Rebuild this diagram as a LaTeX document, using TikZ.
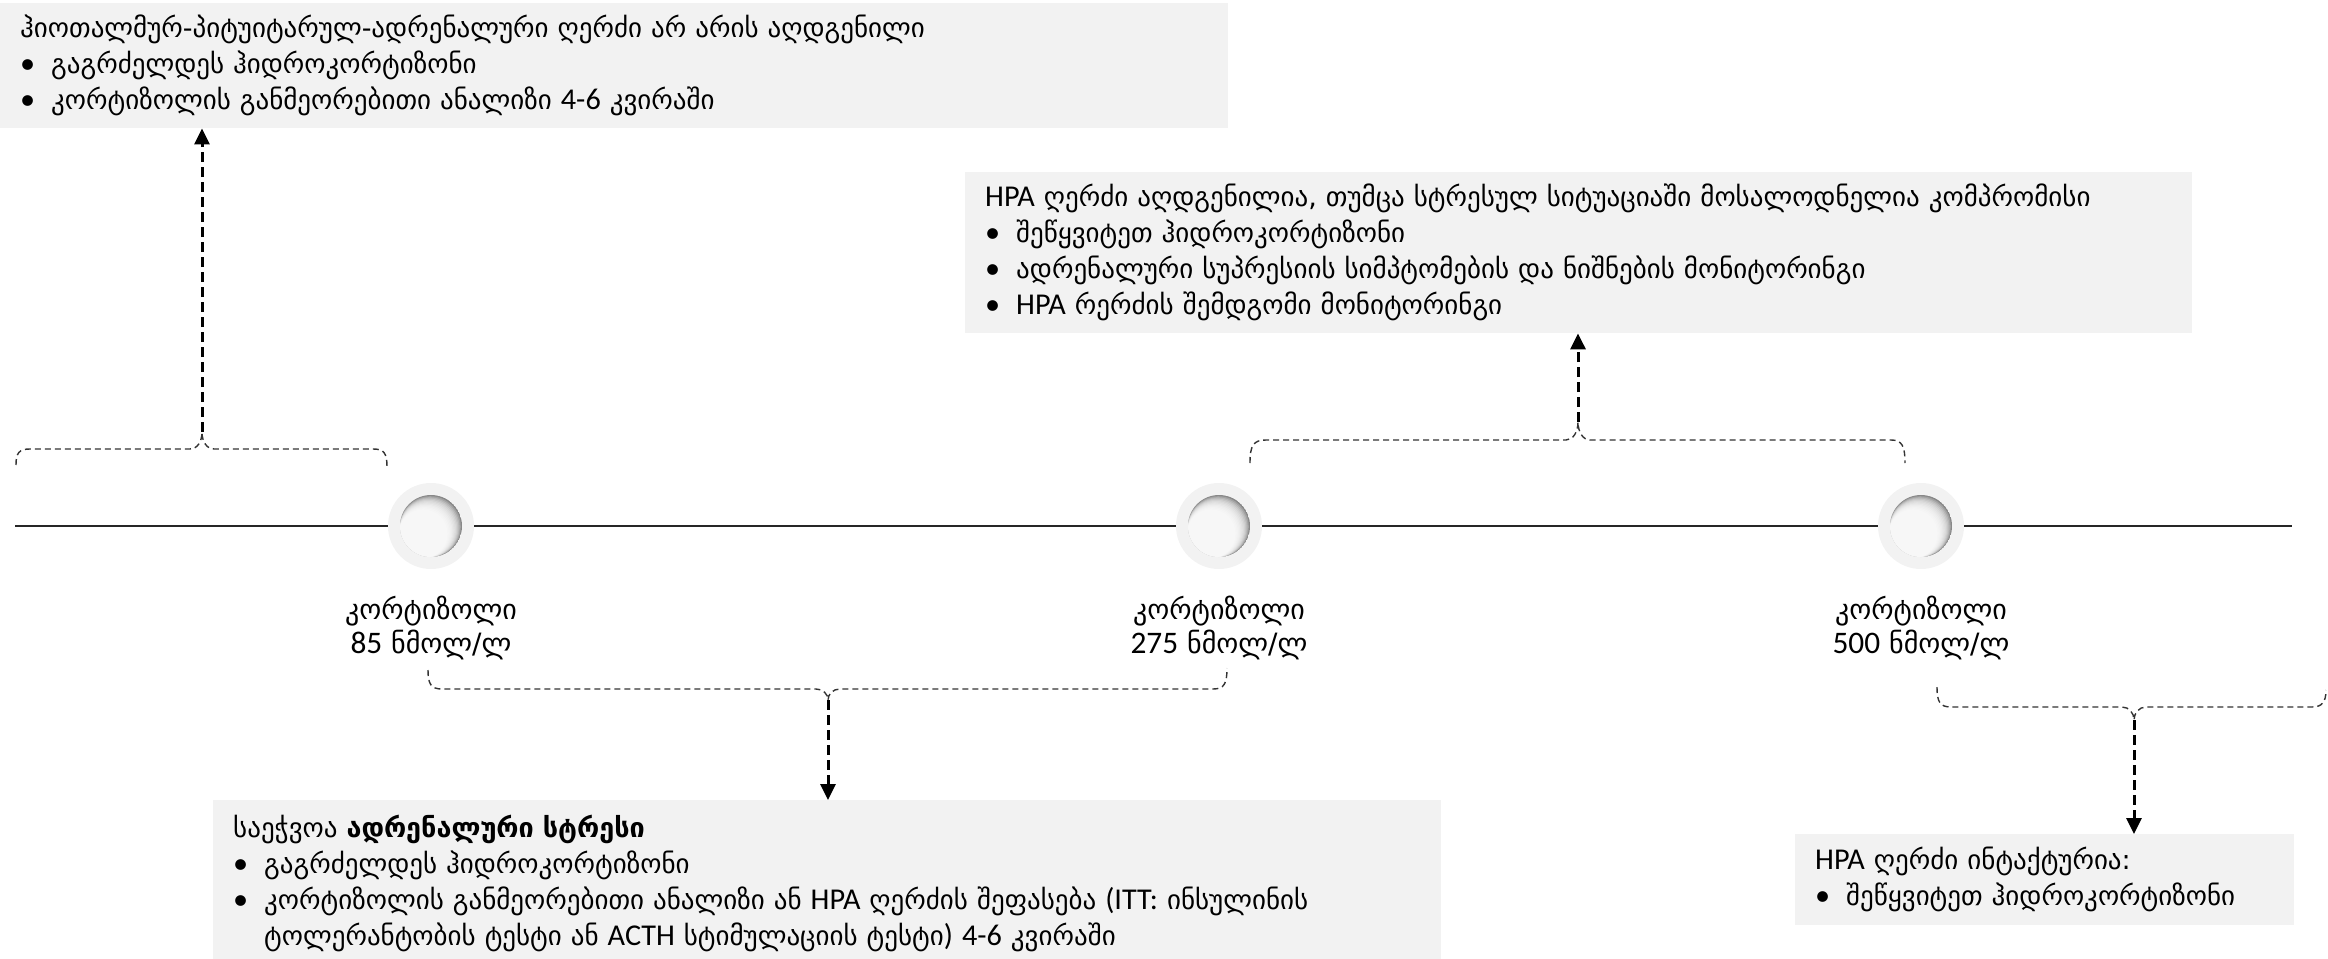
\documentclass[tikz,border=0pt]{standalone}
\usepackage{fontspec}
\setmainfont{DejaVu Sans}
\newfontfamily\latfont{Carlito}[Scale=1.12]
\usetikzlibrary{positioning,arrows.meta,calc}

\newcommand{\lat}[1]{{\latfont #1}}
\newcommand{\bul}{\makebox[31pt][l]{\latfont •}}
\newcommand{\ind}{\hspace*{31pt}}

\definecolor{boxgray}{HTML}{F2F2F2}
\definecolor{ringgray}{HTML}{F2F2F2}
\definecolor{dimplegray}{HTML}{888888}

\tikzset{
  infobox/.style={fill=boxgray, anchor=north west, inner xsep=20pt, inner ysep=0pt,
    align=left, font=\fontsize{27}{36}\selectfont},
  dot/.style={circle, fill=ringgray, minimum size=86pt, inner sep=0pt},
  levellabel/.style={align=center, inner sep=0pt, font=\fontsize{28}{34}\selectfont},
  timeline/.style={line width=2pt, black!85},
  brace/.style={line width=1.4pt, black!80, dash pattern=on 6pt off 4pt},
  flowarrow/.style={line width=3pt, dash pattern=on 10pt off 5pt, -{Triangle[length=16pt,width=15pt]}}
}

\begin{document}
\begin{tikzpicture}[x=1pt, y=-1pt]
\useasboundingbox (0,0) rectangle (2328,958);

% timeline with the three cortisol levels
\node[dot] (lvl1) at (431,526) {};
\node[dot] (lvl2) at (1219,526) {};
\node[dot] (lvl3) at (1921,526) {};
\coordinate (tlstart) at (15,526);
\coordinate (tlend) at (2292,526);
\draw[timeline] (tlstart) -- (lvl1) -- (lvl2) -- (lvl3) -- (tlend);

% hollow look inside each circle
\foreach \d in {lvl1,lvl2,lvl3} {
  \begin{scope}
    \clip (\d.center) circle (31pt);
    \fill[dimplegray] (\d.center) circle (31pt);
    \foreach \k in {1,...,12}
      \fill[white, opacity=0.22] ($(\d.center)+(-0.65*\k pt,-0.65*\k pt)$) circle ({31-0.55*\k});
  \end{scope}
}

\node[levellabel, below=27pt of lvl1] (lab1) {კორტიზოლი\\\lat{85} ნმოლ/ლ};
\node[levellabel, below=27pt of lvl2] (lab2) {კორტიზოლი\\\lat{275} ნმოლ/ლ};
\node[levellabel, below=27pt of lvl3] (lab3) {კორტიზოლი\\\lat{500} ნმოლ/ლ};

% outcome boxes
\node[infobox, text width=1188pt, minimum height=125pt] (axisbox) at (0,3)
  {ჰიოთალმურ-პიტუიტარულ-ადრენალური ღერძი არ არის აღდგენილი\\
   \bul გაგრძელდეს ჰიდროკორტიზონი\\
   \bul კორტიზოლის განმეორებითი ანალიზი \lat{4-6} კვირაში};
\node[infobox, text width=1187pt, minimum height=161pt] (recoverbox) at (965,172)
  {\lat{HPA} ღერძი აღდგენილია, თუმცა სტრესულ სიტუაციაში მოსალოდნელია კომპრომისი\\
   \bul შეწყვიტეთ ჰიდროკორტიზონი\\
   \bul ადრენალური სუპრესიის სიმპტომების და ნიშნების მონიტორინგი\\
   \bul \lat{HPA} რერძის შემდგომი მონიტორინგი};
\node[infobox, text width=1188pt, minimum height=166pt] (stressbox) at (213,800)
  {საეჭვოა \textbf{ადრენალური სტრესი}\\
   \bul გაგრძელდეს ჰიდროკორტიზონი\\
   \bul კორტიზოლის განმეორებითი ანალიზი ან \lat{HPA} ღერძის შეფასება \lat{(ITT:} ინსულინის\\
   \ind ტოლერანტობის ტესტი ან \lat{ACTH} სტიმულაციის ტესტი\lat{) 4-6} კვირაში};
\node[infobox, text width=459pt, minimum height=91pt] (intactbox) at (1795,834)
  {\lat{HPA} ღერძი ინტაქტურია:\\
   \bul შეწყვიტეთ ჰიდროკორტიზონი};

% braces grouping the ranges
\coordinate (tip1) at (202,432);
\coordinate (tip2) at (1578,422);
\coordinate (tip3) at (828,700);
\coordinate (tip4) at (2134,720);
\draw[brace] (16,465) .. controls (16,453) and (19,449) .. (30,449) -- (190,449)
  .. controls (197,449) and (202,442) .. (tip1) .. controls (202,442) and (207,449) .. (214,449)
  -- (373,449) .. controls (384,449) and (387,453) .. (387,467);
\draw[brace] (1250,463) .. controls (1250,446) and (1253,440) .. (1266,440) -- (1566,440)
  .. controls (1573,440) and (1578,432) .. (tip2) .. controls (1578,432) and (1583,440) .. (1590,440)
  -- (1891,440) .. controls (1902,440) and (1905,446) .. (1905,463);
\draw[brace] (428,670) .. controls (428,684) and (431,689) .. (442,689) -- (816,689)
  .. controls (823,689) and (828,694) .. (tip3) .. controls (828,694) and (833,689) .. (840,689)
  -- (1213,689) .. controls (1224,689) and (1227,684) .. (1227,668);
\draw[brace] (1937,687) .. controls (1937,702) and (1940,707) .. (1951,707) -- (2122,707)
  .. controls (2129,707) and (2134,713) .. (tip4) .. controls (2134,713) and (2139,707) .. (2146,707)
  -- (2312,707) .. controls (2322,707) and (2326,702) .. (2326,690);

% arrows to the outcomes
\draw[flowarrow] (tip1) -- (tip1 |- axisbox.south);
\draw[flowarrow] (tip2) -- (tip2 |- recoverbox.south);
\draw[flowarrow] (tip3) -- (tip3 |- stressbox.north);
\draw[flowarrow] (tip4) -- (tip4 |- intactbox.north);
\end{tikzpicture}
\end{document}
